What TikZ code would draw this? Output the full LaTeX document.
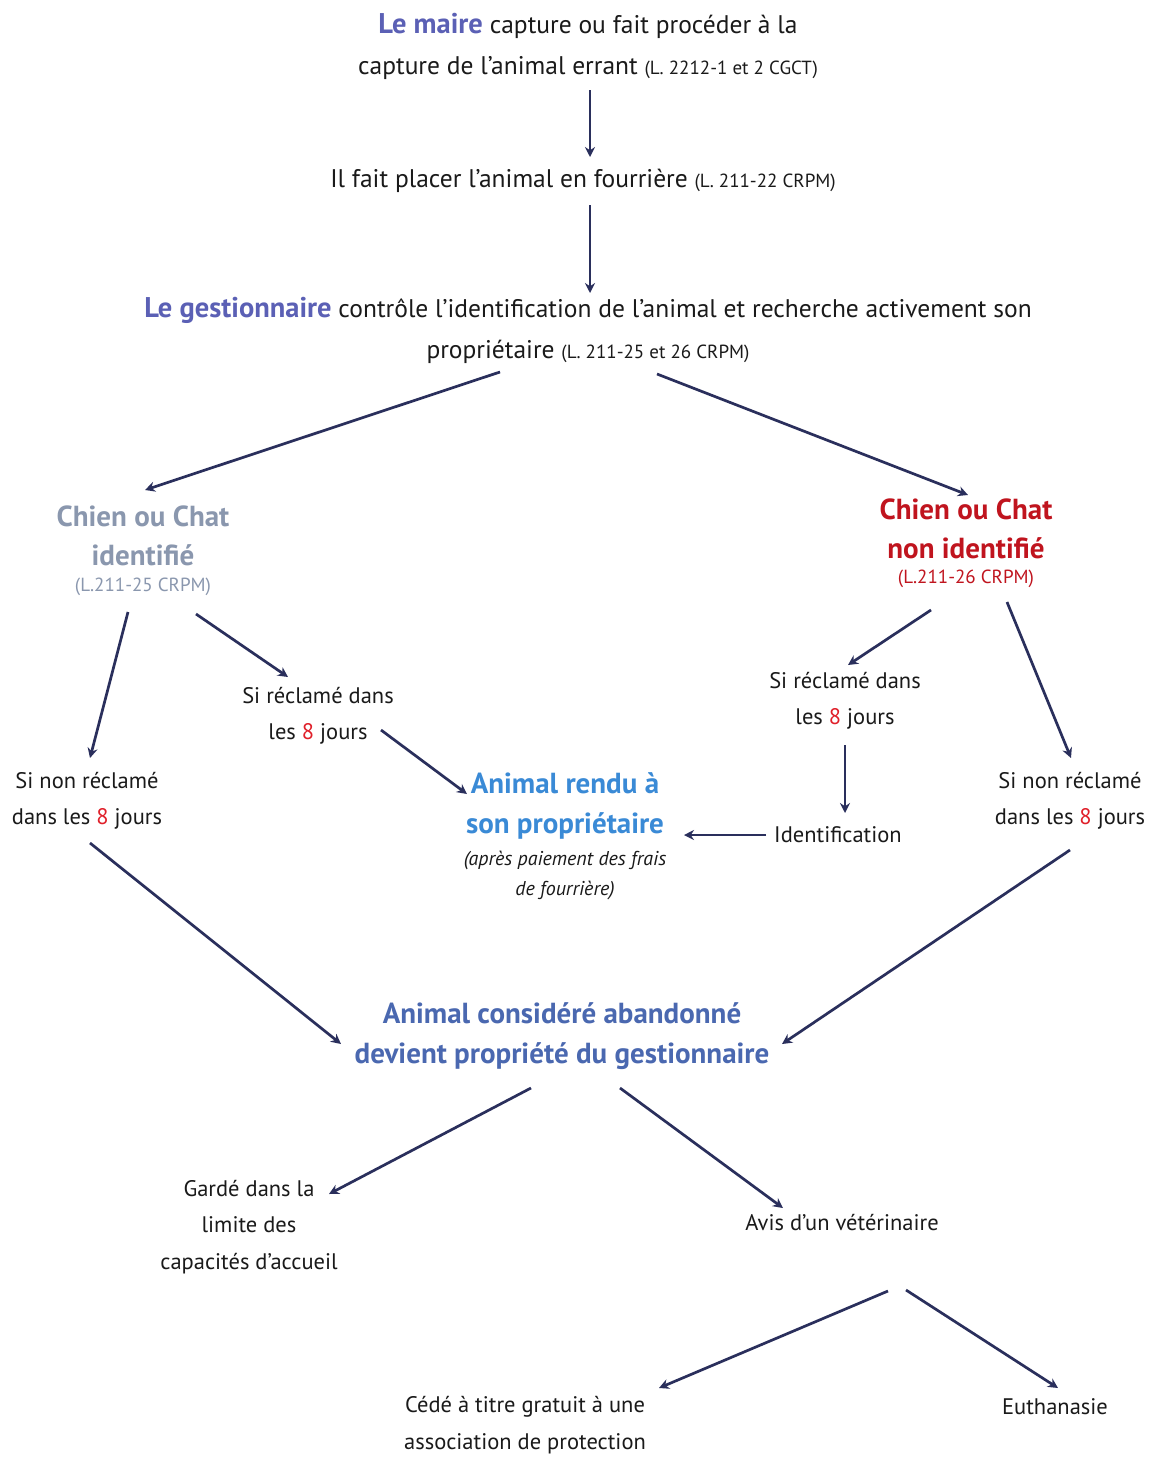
\documentclass[tikz,border=0pt]{standalone}
\usepackage{fontspec}
\setmainfont{PT Sans}
\usetikzlibrary{arrows.meta}
\definecolor{maire}{HTML}{5B60B5}
\definecolor{idgray}{HTML}{8A97AE}
\definecolor{nonid}{HTML}{C0141E}
\definecolor{rendu}{HTML}{3A8AD6}
\definecolor{aband}{HTML}{4A68B0}
\definecolor{arr}{HTML}{2A2F5C}
\definecolor{eight}{HTML}{E0202A}
\definecolor{txt}{HTML}{1A1A1A}
\tikzset{
  lbl/.style={align=center,inner sep=0pt,text=txt,font=\fontsize{22.5}{36.5}\selectfont},
  big/.style={align=center,inner sep=0pt,text=txt,font=\fontsize{25.5}{41}\selectfont},
  bold box/.style={align=center,inner sep=0pt,font=\bfseries\fontsize{29}{39.5}\selectfont},
  arrowline/.style={draw=arr,line width=2.7pt,-{Stealth[length=10pt,width=10pt]}},
}
\newcommand{\refcite}[1]{{\fontsize{19}{20}\selectfont #1}}
\newcommand{\huit}{\textcolor{eight}{8}}
\newcommand{\bigbold}[1]{\textcolor{maire}{\fontsize{28.5}{41}\selectfont\textbf{#1}}}
\begin{document}
\begin{tikzpicture}[x=1pt,y=-1pt]
\useasboundingbox (0,0) rectangle (1151,1457);
\fill[white] (0,0) rectangle (1151,1457);
% nodes
\node[big] (maire) at (588,46) {\bigbold{Le maire} capture ou fait procéder à la\\capture de l’animal errant \refcite{(L. 2212-1 et 2 CGCT)}};
\node[big] (fourr) at (583,181) {Il fait placer l’animal en fourrière \refcite{(L. 211-22 CRPM)}};
\node[big] (gest) at (588,330) {\bigbold{Le gestionnaire} contrôle l’identification de l’animal et recherche activement son\\propriétaire \refcite{(L. 211-25 et 26 CRPM)}};
\node[bold box,text=idgray] (idf) at (143,536) {Chien ou Chat\\identifié};
\node[lbl,text=idgray] (idfc) at (143,587) {\refcite{(L.211-25 CRPM)}};
\node[bold box,text=nonid] (nid) at (966,529) {Chien ou Chat\\non identifié};
\node[lbl,text=nonid] (nidc) at (966,579) {\refcite{(L.211-26 CRPM)}};
\node[lbl] (recl) at (318,716) {Si réclamé dans\\les \huit{} jours};
\node[lbl] (nrecl) at (87,801) {Si non réclamé\\dans les \huit{} jours};
\node[lbl] (recr) at (845,701) {Si réclamé dans\\les \huit{} jours};
\node[lbl] (nrecr) at (1070,801) {Si non réclamé\\dans les \huit{} jours};
\node[bold box,text=rendu] (rendu) at (565,806) {Animal rendu à\\son propriétaire};
\node[lbl,font=\itshape\fontsize{20}{30}\selectfont] (frais) at (565,875) {(après paiement des frais\\de fourrière)};
\node[lbl] (ident) at (838,835) {Identification};
\node[bold box,text=aband] (aband) at (562,1036) {Animal considéré abandonné\\devient propriété du gestionnaire};
\node[lbl] (garde) at (249,1227) {Gardé dans la\\limite des\\capacités d’accueil};
\node[lbl] (avis) at (842,1223) {Avis d’un vétérinaire};
\node[lbl] (cede) at (525,1425) {Cédé à titre gratuit à une\\association de protection};
\node[lbl] (euth) at (1055,1407) {Euthanasie};
% arrow end points
\coordinate (a1s) at (590,90);   \coordinate (a1e) at (590,157);
\coordinate (a2s) at (590,205);  \coordinate (a2e) at (590,293);
\coordinate (a3s) at (500,372);  \coordinate (a3e) at (145,490);
\coordinate (a4s) at (657,374);  \coordinate (a4e) at (968,495);
\coordinate (a5s) at (128,612);  \coordinate (a5e) at (90,758);
\coordinate (a6s) at (196,614);  \coordinate (a6e) at (288,677);
\coordinate (a7s) at (381,730);  \coordinate (a7e) at (467,794);
\coordinate (a8s) at (931,610);  \coordinate (a8e) at (848,665);
\coordinate (a9s) at (1007,602); \coordinate (a9e) at (1071,758);
\coordinate (a10s) at (845,745); \coordinate (a10e) at (845,813);
\coordinate (a11s) at (766,835); \coordinate (a11e) at (684,835);
\coordinate (a12s) at (90,843);  \coordinate (a12e) at (341,1044);
\coordinate (a13s) at (1070,850); \coordinate (a13e) at (782,1044);
\coordinate (a14s) at (531,1088); \coordinate (a14e) at (329,1194);
\coordinate (a15s) at (620,1088); \coordinate (a15e) at (783,1208);
\coordinate (a16s) at (888,1291); \coordinate (a16e) at (659,1388);
\coordinate (a17s) at (906,1290); \coordinate (a17e) at (1058,1388);
\foreach \i in {1,...,17} {\draw[arrowline] (a\i s) -- (a\i e);}
\end{tikzpicture}
\end{document}
